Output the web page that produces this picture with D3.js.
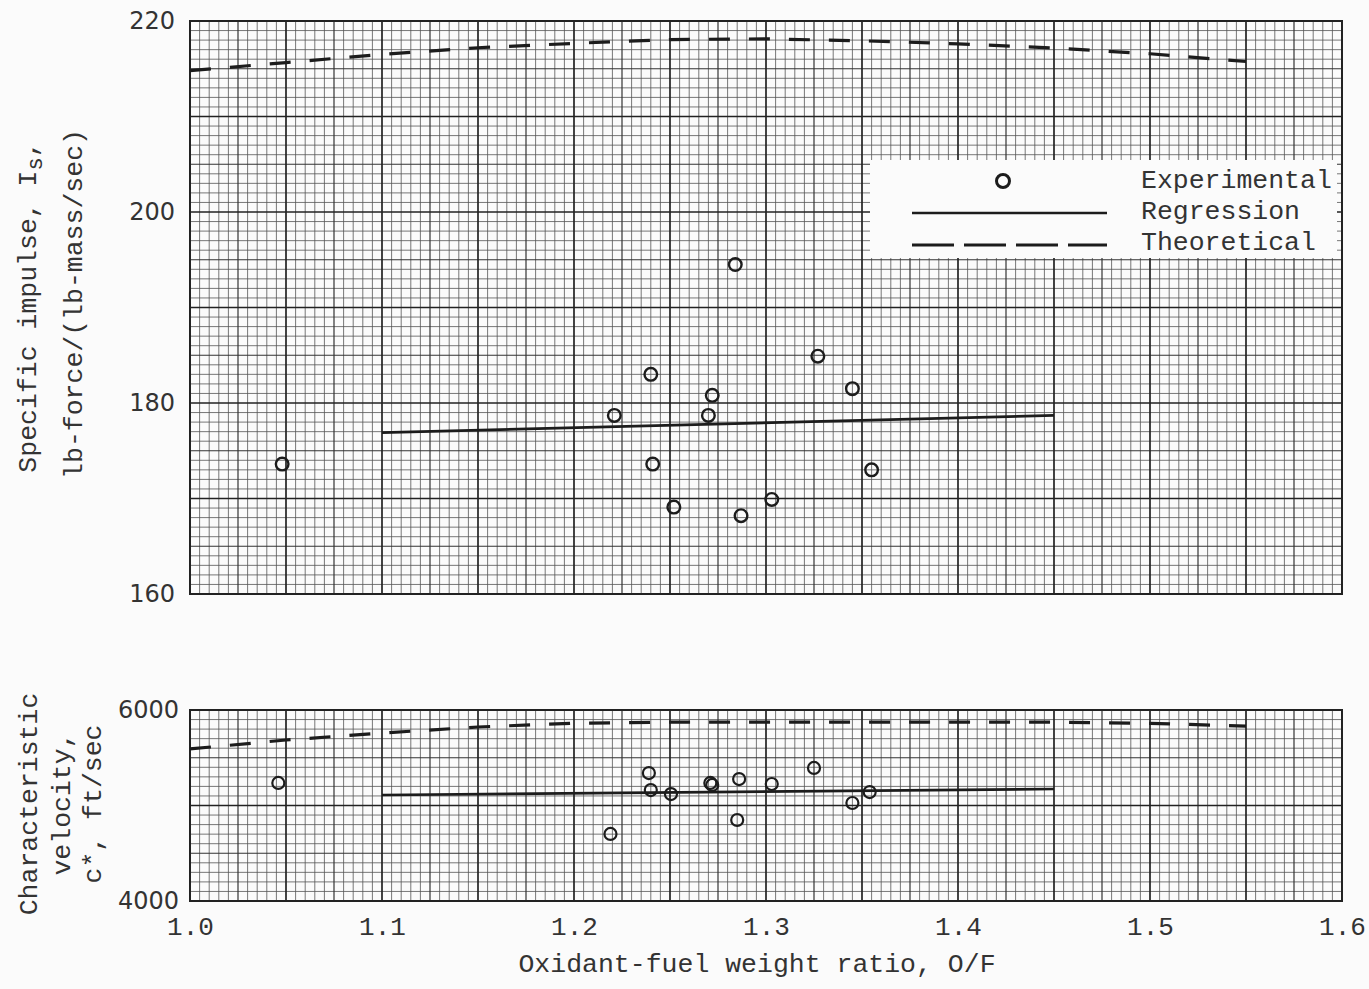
<!DOCTYPE html>
<html>
<head>
<meta charset="utf-8">
<script src="https://cdn.jsdelivr.net/npm/d3@7/dist/d3.min.js"></script>
<style>
  html, body { margin: 0; padding: 0; background: #fbfbfb; }
  svg { display: block; }
</style>
</head>
<body>
<svg id="chart" width="1369" height="989"></svg>
<script>
// ---------------- DATA ----------------
// Experimental points, specific impulse panel
const ofTop = [1.048, 1.221, 1.240, 1.241, 1.252, 1.270, 1.272, 1.284, 1.287, 1.303, 1.327, 1.345, 1.355];
const isTop = [173.6, 178.7, 183.0, 173.6, 169.1, 178.7, 180.8, 194.5, 168.2, 169.9, 184.9, 181.5, 173.0];
// Experimental points, characteristic velocity panel
const ofBot = [1.046, 1.219, 1.239, 1.240, 1.2505, 1.271, 1.272, 1.285, 1.286, 1.303, 1.325, 1.345, 1.354];
const cBot  = [5236, 4702, 5340, 5162, 5120, 5236, 5215, 4848, 5277, 5225, 5393, 5026, 5141];
// Regression lines
const regOF = [1.10, 1.45];
const regIs = [176.9, 178.7];
const regC  = [5110, 5172];
// Theoretical curves
const theoOF = [1.00, 1.05, 1.10, 1.15, 1.20, 1.25, 1.30, 1.35, 1.40, 1.45, 1.50, 1.55];
const theoIs = [214.8, 215.65, 216.5, 217.2, 217.66, 218.06, 218.13, 217.93, 217.61, 217.17, 216.57, 215.76];
const theoC  = [5592, 5686, 5759, 5822, 5862, 5872, 5874, 5874, 5874, 5872, 5860, 5832];
// Tick labels
const xTicks = [1.0, 1.1, 1.2, 1.3, 1.4, 1.5, 1.6];
const isTicks = [160, 180, 200, 220];
const cTicks = [4000, 6000];
const legendLabels = ["Experimental", "Regression", "Theoretical"];

// ---------------- LAYOUT ----------------
const svg = d3.select("#chart");
const ink = "#1c1c1c";
const textInk = "#333";
const mono = "'Liberation Mono', 'Courier New', monospace";
const sans = "'DejaVu Sans', sans-serif";

const x = d3.scaleLinear().domain([1.0, 1.6]).range([190, 1342]);
const yTop = d3.scaleLinear().domain([160, 220]).range([594, 21]);
const yBot = d3.scaleLinear().domain([4000, 6000]).range([901, 710]);

function grid(g, yScale, yMin, yStep, yCount) {
  const x0 = x.range()[0], x1 = x.range()[1];
  const y0 = yScale.range()[1], y1 = yScale.range()[0];
  const style = lv => lv === 2 ? {w: 1.7, c: "#222"} : (lv === 1 ? {w: 1.2, c: "#333"} : {w: 0.8, c: "#555"});
  const lvOf = i => i % 10 === 0 ? 2 : (i % 5 === 0 ? 1 : 0);
  const xs = d3.range(0, 121);
  [0, 1, 2].forEach(level => {
    xs.forEach(i => {
      if (lvOf(i) !== level) return;
      const s = style(level);
      const xv = x(1.0 + i * 0.005);
      g.append("line").attr("x1", xv).attr("x2", xv).attr("y1", y0).attr("y2", y1)
        .attr("stroke", s.c).attr("stroke-width", s.w);
    });
    d3.range(0, yCount + 1).forEach(i => {
      if (lvOf(i) !== level) return;
      const s = style(level);
      const yv = yScale(yMin + i * yStep);
      g.append("line").attr("x1", x0).attr("x2", x1).attr("y1", yv).attr("y2", yv)
        .attr("stroke", s.c).attr("stroke-width", s.w);
    });
  });
  g.append("rect").attr("x", x0).attr("y", y0).attr("width", x1 - x0).attr("height", y1 - y0)
    .attr("fill", "none").attr("stroke", "#222").attr("stroke-width", 2);
}

const gTop = svg.append("g");
grid(gTop, yTop, 160, 1, 60);
const gBot = svg.append("g");
grid(gBot, yBot, 4000, 100, 20);

// ---------------- LEGEND BOX ----------------
const leg = svg.append("g");
leg.append("rect").attr("x", 870).attr("y", 160).attr("width", 467).attr("height", 98).attr("fill", "#fbfbfb");

// ---------------- LINES ----------------
const lineTop = d3.line().x(d => x(d[0])).y(d => yTop(d[1]));
const lineBot = d3.line().x(d => x(d[0])).y(d => yBot(d[1]));

gTop.append("path").attr("d", lineTop(d3.zip(theoOF, theoIs)))
  .attr("fill", "none").attr("stroke", ink).attr("stroke-width", 3.2).attr("stroke-dasharray", "21,19");
gTop.append("path").attr("d", lineTop(d3.zip(regOF, regIs)))
  .attr("fill", "none").attr("stroke", ink).attr("stroke-width", 2.6);

gBot.append("path").attr("d", lineBot(d3.zip(theoOF, theoC)))
  .attr("fill", "none").attr("stroke", ink).attr("stroke-width", 3.2).attr("stroke-dasharray", "21,19");
gBot.append("path").attr("d", lineBot(d3.zip(regOF, regC)))
  .attr("fill", "none").attr("stroke", ink).attr("stroke-width", 2.6);

// ---------------- POINTS ----------------
gTop.selectAll("circle.pt").data(d3.zip(ofTop, isTop)).enter().append("circle")
  .attr("class", "pt").attr("cx", d => x(d[0])).attr("cy", d => yTop(d[1])).attr("r", 6.3)
  .attr("fill", "none").attr("stroke", ink).attr("stroke-width", 2.4);
gBot.selectAll("circle.pt").data(d3.zip(ofBot, cBot)).enter().append("circle")
  .attr("class", "pt").attr("cx", d => x(d[0])).attr("cy", d => yBot(d[1])).attr("r", 6)
  .attr("fill", "none").attr("stroke", ink).attr("stroke-width", 2.2);

// ---------------- LEGEND CONTENTS ----------------
leg.append("circle").attr("cx", 1003).attr("cy", 181).attr("r", 6.5)
  .attr("fill", "none").attr("stroke", ink).attr("stroke-width", 3);
leg.append("line").attr("x1", 912).attr("x2", 1107).attr("y1", 213).attr("y2", 213)
  .attr("stroke", ink).attr("stroke-width", 2.6);
leg.append("line").attr("x1", 912).attr("x2", 1107).attr("y1", 245).attr("y2", 245)
  .attr("stroke", ink).attr("stroke-width", 2.8).attr("stroke-dasharray", "42,10");
leg.selectAll("text").data(legendLabels).enter().append("text")
  .attr("x", 1141).attr("y", (d, i) => [188, 219, 250][i])
  .attr("font-family", mono).attr("font-size", 26.5).attr("fill", textInk)
  .text(d => d);

// ---------------- AXES ----------------
function styleYAxis(g) {
  g.select(".domain").remove();
  g.selectAll("line").remove();
  g.selectAll("text").attr("font-family", sans).attr("font-size", 24).attr("fill", textInk);
}
svg.append("g").attr("transform", "translate(190,0)")
  .call(d3.axisLeft(yTop).tickValues(isTicks).tickSize(0).tickPadding(15).tickFormat(d3.format("d")))
  .call(styleYAxis);
svg.append("g").attr("transform", "translate(190,0)")
  .call(d3.axisLeft(yBot).tickValues(cTicks).tickSize(0).tickPadding(11).tickFormat(d3.format("d")))
  .call(styleYAxis);

svg.append("g").attr("transform", "translate(0,901)")
  .call(d3.axisBottom(x).tickValues(xTicks).tickSize(0).tickPadding(16).tickFormat(d3.format(".1f")))
  .call(g => {
    g.select(".domain").remove();
    g.selectAll("line").remove();
    g.selectAll("text").attr("font-family", mono).attr("font-size", 26).attr("fill", textInk);
  });

// ---------------- TITLES ----------------
svg.append("text").attr("x", 757).attr("y", 972).attr("text-anchor", "middle")
  .attr("font-family", mono).attr("font-size", 26.5).attr("fill", textInk)
  .text("Oxidant-fuel weight ratio, O/F");

function rotText(xb, yc, build) {
  const t = svg.append("text").attr("transform", `translate(${xb},${yc}) rotate(-90)`)
    .attr("text-anchor", "middle").attr("font-family", mono).attr("font-size", 26.5)
    .attr("fill", textInk);
  build(t);
  return t;
}
rotText(36, 307, t => {
  t.append("tspan").text("Specific impulse, I");
  t.append("tspan").attr("baseline-shift", "-25%").attr("font-size", 22).text("s");
  t.append("tspan").text(",");
});
rotText(82, 304, t => t.text("lb-force/(lb-mass/sec)"));
rotText(37, 804, t => t.text("Characteristic"));
rotText(70, 804, t => t.text("velocity,"));
rotText(101, 804, t => t.text("c*, ft/sec"));
</script>
</body>
</html>
